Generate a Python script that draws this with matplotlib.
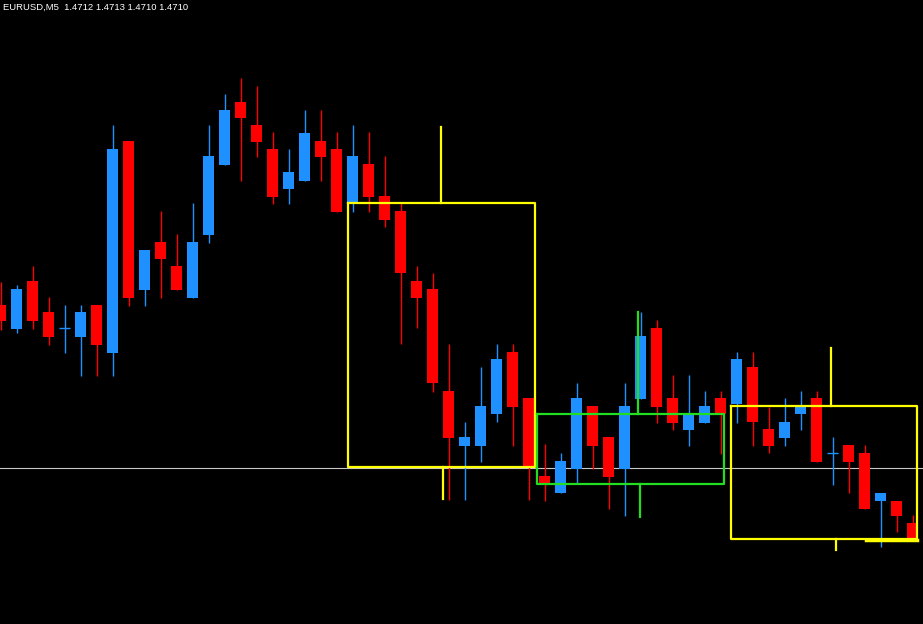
import numpy as np
import matplotlib
matplotlib.use("Agg")
import matplotlib.pyplot as plt

# EURUSD M5 candles (bar index 0..57)
opens = [1.47333, 1.47309, 1.47357, 1.47326, 1.47310, 1.47301, 1.47333, 1.47285, 1.47497, 1.47348,
         1.47396, 1.47372, 1.47340, 1.47403, 1.47473, 1.47536, 1.47513, 1.47489, 1.47449, 1.47457,
         1.47497, 1.47489, 1.47436, 1.47474, 1.47442, 1.47427, 1.47357, 1.47349, 1.47247, 1.47192,
         1.47192, 1.47224, 1.47286, 1.47240, 1.47162, 1.47145, 1.47169, 1.47232, 1.47201, 1.47169,
         1.47239, 1.47310, 1.47240, 1.47208, 1.47215, 1.47240, 1.47234, 1.47271, 1.47209, 1.47200,
         1.47224, 1.47240, 1.47185, 1.47193, 1.47185, 1.47137, 1.47137, 1.47115]
highs = [1.47356, 1.47353, 1.47372, 1.47341, 1.47333, 1.47333, 1.47333, 1.47513, 1.47497, 1.47388,
         1.47427, 1.47404, 1.47435, 1.47513, 1.47544, 1.47560, 1.47552, 1.47506, 1.47489, 1.47528,
         1.47528, 1.47506, 1.47513, 1.47506, 1.47482, 1.47435, 1.47372, 1.47365, 1.47294, 1.47216,
         1.47271, 1.47294, 1.47294, 1.47240, 1.47194, 1.47185, 1.47255, 1.47232, 1.47201, 1.47255,
         1.47326, 1.47318, 1.47263, 1.47263, 1.47247, 1.47247, 1.47286, 1.47286, 1.47231, 1.47240,
         1.47247, 1.47247, 1.47201, 1.47193, 1.47193, 1.47145, 1.47137, 1.47123]
lows = [1.47308, 1.47305, 1.47309, 1.47293, 1.47285, 1.47262, 1.47262, 1.47262, 1.47332, 1.47332,
        1.47340, 1.47348, 1.47340, 1.47395, 1.47473, 1.47457, 1.47481, 1.47434, 1.47434, 1.47457,
        1.47457, 1.47426, 1.47426, 1.47426, 1.47411, 1.47294, 1.47310, 1.47246, 1.47138, 1.47138,
        1.47176, 1.47216, 1.47192, 1.47138, 1.47137, 1.47145, 1.47154, 1.47169, 1.47129, 1.47122,
        1.47239, 1.47215, 1.47208, 1.47192, 1.47215, 1.47184, 1.47215, 1.47192, 1.47185, 1.47192,
        1.47208, 1.47176, 1.47153, 1.47145, 1.47129, 1.47091, 1.47106, 1.47100]
closes = [1.47317, 1.47349, 1.47317, 1.47301, 1.47310, 1.47326, 1.47293, 1.47489, 1.47340, 1.47388,
          1.47379, 1.47348, 1.47396, 1.47482, 1.47528, 1.47520, 1.47496, 1.47441, 1.47466, 1.47505,
          1.47481, 1.47426, 1.47482, 1.47441, 1.47418, 1.47365, 1.47340, 1.47255, 1.47200, 1.47201,
          1.47232, 1.47279, 1.47231, 1.47171, 1.47155, 1.47177, 1.47240, 1.47192, 1.47161, 1.47232,
          1.47302, 1.47231, 1.47215, 1.47223, 1.47232, 1.47224, 1.47279, 1.47216, 1.47192, 1.47216,
          1.47231, 1.47176, 1.47185, 1.47176, 1.47129, 1.47145, 1.47122, 1.47100]

# rectangles drawn on the chart: (start bar, end bar, top price, bottom price)
yellow_boxes = [(21.72, 33.41, 1.47435, 1.47171), (45.66, 57.28, 1.47232, 1.47099)]
green_box = (33.53, 45.22, 1.47224, 1.47154)
# vertical markers: (bar, from price, to price)
yellow_marks = [(27.55, 1.47511, 1.47435), (27.66, 1.47171, 1.47139),
                (51.9, 1.47290, 1.47232), (52.22, 1.47099, 1.47088)]
green_marks = [(39.84, 1.47326, 1.47224), (39.97, 1.47154, 1.47121)]
level = 1.47170
header = "EURUSD,M5  1.4712 1.4713 1.4710 1.4710"

bull = "#1e90ff"
bear = "#ff0000"

o = np.array(opens)
h = np.array(highs)
l = np.array(lows)
c = np.array(closes)
x = np.arange(len(o))
cols = np.where(c >= o, bull, bear)

fig = plt.figure(figsize=(9.23, 6.24), dpi=100, facecolor="black")
ax = fig.add_axes([0, 0, 1, 1], facecolor="black")

# horizontal level line
ax.axhline(level, color="#c8c8c8", lw=0.8, zorder=1)

# wicks and bodies
ax.vlines(x, l, h, colors=cols, lw=1.0, zorder=2)
body = np.abs(c - o)
ax.bar(x, body, bottom=np.minimum(o, c), width=0.69, color=cols, linewidth=0, zorder=3)
doji = body == 0
ax.hlines(o[doji], x[doji] - 0.34, x[doji] + 0.34, colors=bull, lw=1.0, zorder=3)

# boxes
for x0, x1, top, bot in yellow_boxes:
    ax.plot([x0, x1, x1, x0, x0], [top, top, bot, bot, top], color="#ffff00", lw=1.6, zorder=4)
gx0, gx1, gtop, gbot = green_box
ax.plot([gx0, gx1, gx1, gx0, gx0], [gtop, gtop, gbot, gbot, gtop], color="#22dd22", lw=1.6, zorder=4)
ax.plot([54.1, 57.3], [1.47098, 1.47098], color="#ffff00", lw=2.5, zorder=4)

for xm, y0, y1 in yellow_marks:
    ax.plot([xm, xm], [y0, y1], color="#ffff00", lw=1.6, zorder=4)
for xm, y0, y1 in green_marks:
    ax.plot([xm, xm], [y0, y1], color="#22dd22", lw=1.6, zorder=4)

ax.set_xlim(-0.5 / 16, 922.5 / 16)
ax.set_ylim(1.47100 + (538 - 624) / 1e5, 1.47100 + 538 / 1e5)
ax.axis("off")

fig.text(3 / 923, 1 - 7 / 624, header, color="white", fontsize=6.8,
         family="Liberation Sans", va="center", ha="left")

fig.savefig("out.png", dpi=100, facecolor="black")
